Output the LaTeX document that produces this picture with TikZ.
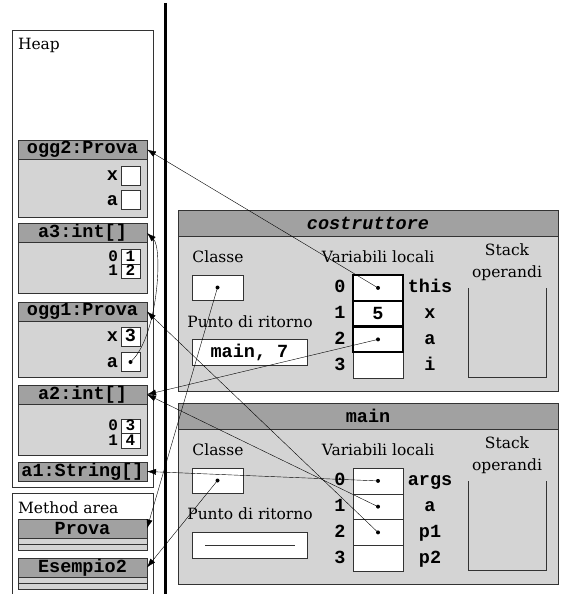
\documentclass[tikz,border=0pt]{standalone}
\usepackage{fontspec}
\setmainfont{DejaVu Serif}
\setmonofont{Liberation Mono}
\usetikzlibrary{positioning, arrows.meta, calc}

\definecolor{hdrgray}{gray}{0.63}
\definecolor{boxgray}{gray}{0.83}
\newcommand\codefont{\ttfamily\bfseries\fontsize{18.5}{18.5}\selectfont}
\newcommand\elemfont{\ttfamily\bfseries\fontsize{16}{16}\selectfont}

\begin{document}
\begin{tikzpicture}[
  x=1pt, y=-1pt,
  font=\fontsize{15.5}{17}\selectfont,
  every node/.style={inner sep=0pt, outer sep=0pt},
  hdr/.style={draw=black!80, fill=hdrgray, minimum width=129pt,
              minimum height=19pt, font=\codefont},
  objbody/.style={draw=black!80, fill=boxgray, minimum width=129pt},
  fld/.style={draw=black!80, fill=white, minimum width=19pt,
              minimum height=19pt, font=\codefont,
              text height=11pt, text depth=1pt},
  elem/.style={fld, minimum height=14.5pt, font=\elemfont,
               text height=10pt, text depth=0.5pt},
  elemlbl/.style={font=\elemfont, text height=10pt, text depth=0.5pt},
  strip/.style={draw=black!80, fill=boxgray, minimum width=129pt,
                minimum height=6pt},
  area/.style={draw=black!80, fill=white, minimum width=141pt},
  framehdr/.style={draw=black!80, fill=hdrgray, minimum width=380pt,
                   minimum height=26pt, font=\codefont},
  framebody/.style={draw=black!80, fill=boxgray, minimum width=380pt,
                    minimum height=155pt},
  var/.style={draw=black!80, fill=white, minimum width=50pt,
              minimum height=25.75pt, font=\codefont},
  thickvar/.style={var, draw=black, line width=2pt},
  slot/.style={draw=black!80, fill=white, minimum width=51pt,
               minimum height=25pt},
  retbox/.style={draw=black!80, fill=white, minimum width=115pt,
                 minimum height=26pt, font=\codefont},
  lbl/.style={font=\codefont, text height=11pt, text depth=1pt},
  dot/.style={circle, fill=black, minimum size=4pt},
  ref/.style={-{Latex[length=9pt,width=6pt]}, black},
]
\useasboundingbox (0,0) rectangle (570,594);

\node[area, minimum height=457pt] (heap) at (82.5,258.5) {};
\node[anchor=west] (heaplbl) at (18,45) {Heap};
\node[area, minimum height=110pt] (meth) at (82.5,548) {};
\node[anchor=west] (methlbl) at (18,508) {Method area};
\draw[line width=3pt] (165,3) -- (165,594);

\node[hdr] (ogg2) at (82.5,149.5) {ogg2:Prova};
\node[objbody, minimum height=58pt, below=0pt of ogg2] (ogg2b) {};
\node[fld] (ogg2x) at (130.5,175.5) {};
\node[fld] (ogg2a) at (130.5,200) {};
\node[lbl, left=3pt of ogg2x] {x};
\node[lbl, left=3pt of ogg2a] {a};

\node[hdr] (a3) at (82.5,233) {a3:int[]};
\node[objbody, minimum height=51pt, below=0pt of a3] (a3b) {};
\node[elem] (a3e0) at (130.5,256.5) {1};
\node[elem, below=0pt of a3e0] (a3e1) {2};
\node[elemlbl, left=3pt of a3e0] {0};
\node[elemlbl, left=3pt of a3e1] {1};

\node[hdr] (ogg1) at (82.5,311.5) {ogg1:Prova};
\node[objbody, minimum height=56pt, below=0pt of ogg1] (ogg1b) {};
\node[fld] (ogg1x) at (130.5,336.5) {3};
\node[fld] (ogg1a) at (130.5,362) {};
\node[lbl, left=3pt of ogg1x] {x};
\node[lbl, left=3pt of ogg1a] {a};
\node[dot] (ogg1ad) at (ogg1a.center) {};

\node[hdr] (a2) at (82.5,394.5) {a2:int[]};
\node[objbody, minimum height=51pt, below=0pt of a2] (a2b) {};
\node[elem] (a2e0) at (130.5,426) {3};
\node[elem, below=0pt of a2e0] (a2e1) {4};
\node[elemlbl, left=3pt of a2e0] {0};
\node[elemlbl, left=3pt of a2e1] {1};

\node[hdr] (a1) at (82.5,471.5) {a1:String[]};

\node[hdr] (prova) at (82.5,528.5) {Prova};
\node[strip, below=0pt of prova] (prova1) {};
\node[strip, below=0pt of prova1] (prova2) {};
\node[hdr] (esempio) at (82.5,567.5) {Esempio2};
\node[strip, below=0pt of esempio] (esempio1) {};
\node[strip, below=0pt of esempio1] (esempio2) {};

% frame del costruttore
\node[framehdr] (cost) at (368,223) {\itshape costruttore};
\node[framebody, below=0pt of cost] (costb) {};
\node (cclasse) at (218,257) {Classe};
\node[slot] (cslot) at (217.5,287.5) {};
\node[dot] (cslotd) at (cslot.center) {};
\node (cpunto) at (250,322) {Punto di ritorno};
\node[retbox] (cret) at (249.5,352) {main, 7};
\node (cvars) at (378,257) {Variabili locali};
\node (cstack) at (507,250) {Stack};
\node (coper) at (507,273) {operandi};
\draw[black!80] (468,288) -- (468,377) -- (546,377) -- (546,288);
\node[var] (cv3) at (378,365.1) {};
\node[thickvar] (cv0) at (378,287.9) {};
\node[thickvar] (cv1) at (378,313.6) {5};
\node[thickvar] (cv2) at (378,339.4) {};
\node[dot] (cv0d) at (cv0.center) {};
\node[dot] (cv2d) at (cv2.center) {};
\foreach \i/\n in {0/this, 1/x, 2/a, 3/i} {
  \node[lbl] (ci\i) at (340,{287.9+25.75*\i}) {\i};
  \node[lbl] (cn\i) at (430,{287.9+25.75*\i}) {\n};
}

% frame del main
\node[framehdr] (main) at (368,416) {main};
\node[framebody, below=0pt of main] (mainb) {};
\node (mclasse) at (218,450) {Classe};
\node[slot] (mslot) at (217.5,480.5) {};
\node[dot] (mslotd) at (mslot.center) {};
\node (mpunto) at (250,514) {Punto di ritorno};
\node[retbox] (mret) at (249.5,545) {};
\draw[black!80] ($(mret.west)+(13,0)$) -- ($(mret.east)+(-12,0)$);
\node (mvars) at (378,450) {Variabili locali};
\node (mstack) at (507,443) {Stack};
\node (moper) at (507,466) {operandi};
\draw[black!80] (468,481) -- (468,570) -- (546,570) -- (546,481);
\foreach \i/\n in {0/args, 1/a, 2/p1, 3/p2} {
  \node[var] (mv\i) at (378,{480.9+25.75*\i}) {};
  \node[lbl] (mi\i) at (340,{480.9+25.75*\i}) {\i};
  \node[lbl] (mn\i) at (430,{480.9+25.75*\i}) {\n};
}
\node[dot] (mv0d) at (mv0.center) {};
\node[dot] (mv1d) at (mv1.center) {};
\node[dot] (mv2d) at (mv2.center) {};

\draw[ref] (ogg1ad) .. controls (158,335) and (163,248) .. (a3.east);
\draw[ref] (cv0d) -- (ogg2.east);
\draw[ref] (cv2d) -- (a2.east);
\draw[ref] (cslotd) -- (prova.east);
\draw[ref] (mslotd) -- (esempio.east);
\draw[ref] (mv0d) -- (a1.east);
\draw[ref] (mv1d) -- (a2.east);
\draw[ref] (mv2d) -- (ogg1.east);

\end{tikzpicture}
\end{document}
